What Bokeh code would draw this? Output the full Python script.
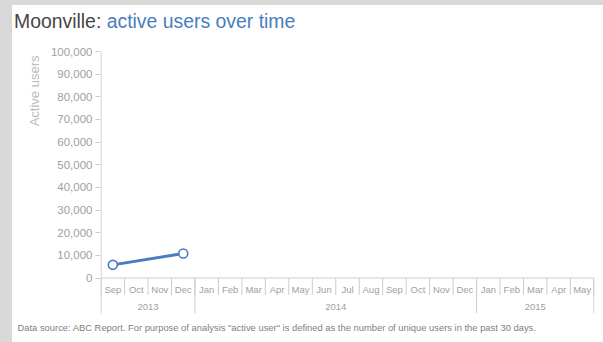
from bokeh.plotting import figure
from bokeh.models import Range1d, LinearAxis, FixedTicker, NumeralTickFormatter, Title, Div
from bokeh.core.properties import value
from bokeh.layouts import column
from bokeh.embed import file_html
from bokeh.resources import INLINE

# ---- data ----
months = ["Sep", "Oct", "Nov", "Dec", "Jan", "Feb", "Mar", "Apr", "May", "Jun", "Jul",
          "Aug", "Sep", "Oct", "Nov", "Dec", "Jan", "Feb", "Mar", "Apr", "May"]
month_years = ["2013"] * 4 + ["2014"] * 12 + ["2015"] * 5
years = ["2013", "2014", "2015"]
obs_months = ["Sep", "Dec"]
obs_years = ["2013", "2013"]
active_users = [5800, 10800]
y_ticks = [0, 10000, 20000, 30000, 40000, 50000, 60000, 70000, 80000, 90000, 100000]

title_a = "Moonville:"
title_b = "active users over time"
y_label = "Active users"
footer = ('Data source: ABC Report. For purpose of analysis "active user" is defined as '
          'the number of unique users in the past 30 days.')

# ---- layout constants (pixels) ----
PLOT_PX = 226.5           # height of the value area (0 .. max tick)
TABLE_PX = 35.5           # height of the month / year header table below the axis
MONTH_ROW_PX = 17
UNIT = (y_ticks[-1] - y_ticks[0]) / PLOT_PX   # data units per pixel

# ---- positions derived through the ranges ----
keys = list(zip(month_years, months))
x_obs = [keys.index((y, m)) + 0.5 for y, m in zip(obs_years, obs_months)]
centers = [i + 0.5 for i in range(len(months))]
boundaries = [float(i) for i in range(len(months) + 1)]
year_start = [month_years.index(y) for y in years]
year_end = [len(month_years) - month_years[::-1].index(y) for y in years]
year_centers = [(s + e) / 2 for s, e in zip(year_start, year_end)]
year_bounds = sorted(set([float(s) for s in year_start] + [float(e) for e in year_end]))

y_bottom = y_ticks[0] - TABLE_PX * UNIT
month_row_bottom = y_ticks[0] - MONTH_ROW_PX * UNIT
month_text_y = y_ticks[0] - 11.5 * UNIT
year_text_y = y_ticks[0] - 28.5 * UNIT

BLUE = "#4a7cc0"
GRID = "#cccccc"
LABEL = "#a0a0a0"
FONT = "Liberation Sans"

head = Div(text=('<div style="font-family:\'Liberation Sans\';font-size:19.4px;'
                 'padding:3px 0 0 2px;white-space:nowrap;">'
                 '<span style="color:#454545">%s</span> '
                 '<span style="color:%s">%s</span></div>') % (title_a, BLUE, title_b),
           width=591, height=30, margin=(5, 0, 0, 12),
           styles={"background-color": "white"})

pad = 0.6 / 23.5
p = figure(width=591, height=307, margin=(0, 0, 0, 12),
           x_range=Range1d(-pad, len(months) + pad), y_range=Range1d(y_bottom, y_ticks[-1]),
           x_axis_location=None, y_axis_location=None,
           output_backend="svg", toolbar_location=None,
           outline_line_color=None, background_fill_color=None, border_fill_color=None,
           styles={"background-color": "white"},
           min_border_left=88, min_border_right=9, min_border_top=16, min_border_bottom=29)
p.outline_line_alpha = 0
p.grid.visible = False

yaxis = LinearAxis(ticker=FixedTicker(ticks=y_ticks, minor_ticks=[]),
                   formatter=NumeralTickFormatter(format="0,0"),
                   bounds=(y_ticks[0], y_ticks[-1]),
                   axis_line_color=None, major_tick_line_color=GRID,
                   major_tick_in=0, major_tick_out=5, minor_tick_line_color=None,
                   major_label_text_font=FONT, major_label_text_font_size="11.5px",
                   major_label_text_color=LABEL, major_label_standoff=3)
p.add_layout(yaxis, "left")
p.add_layout(Title(text=y_label, align="right", offset=4, text_font=FONT,
                   text_font_size="13px", text_font_style="normal",
                   text_color="#bbbbbb", standoff=12), "left")

p.add_layout(Title(text=footer, align="left", offset=-83, text_font=FONT,
                   text_font_size="9.4px", text_font_style="normal",
                   text_color="#808080", standoff=13), "below")

# value axis line and the header table (axis line, separators, labels)
p.segment(x0=[0.0], y0=[y_ticks[0]], x1=[0.0], y1=[y_ticks[-1]], line_color=GRID, line_width=1)
p.segment(x0=[boundaries[0]], y0=[y_ticks[0]], x1=[boundaries[-1]], y1=[y_ticks[0]],
          line_color=GRID, line_width=1)
p.segment(x0=boundaries, y0=[y_ticks[0]] * len(boundaries), x1=boundaries,
          y1=[month_row_bottom] * len(boundaries), line_color=GRID, line_width=1)
p.segment(x0=year_bounds, y0=[y_ticks[0]] * len(year_bounds), x1=year_bounds,
          y1=[y_bottom] * len(year_bounds), line_color=GRID, line_width=1)
p.text(x=centers, y=[month_text_y] * len(centers), text=months, text_align="center",
       text_baseline="middle", text_font=value(FONT), text_font_size="9.5px",
       text_color=LABEL)
p.text(x=year_centers, y=[year_text_y] * len(year_centers), text=years, text_align="center",
       text_baseline="middle", text_font=value(FONT), text_font_size="9.5px",
       text_color=LABEL)

p.line(x_obs, active_users, line_width=3, line_color=BLUE)
p.scatter(x_obs, active_users, marker="circle", size=9, fill_color="white",
          line_color=BLUE, line_width=1.6)

root = column(head, p, width=603, height=342, spacing=0,
              styles={"background-color": "#d9d9d9"})
open("out.html", "w").write(file_html(root, INLINE))
